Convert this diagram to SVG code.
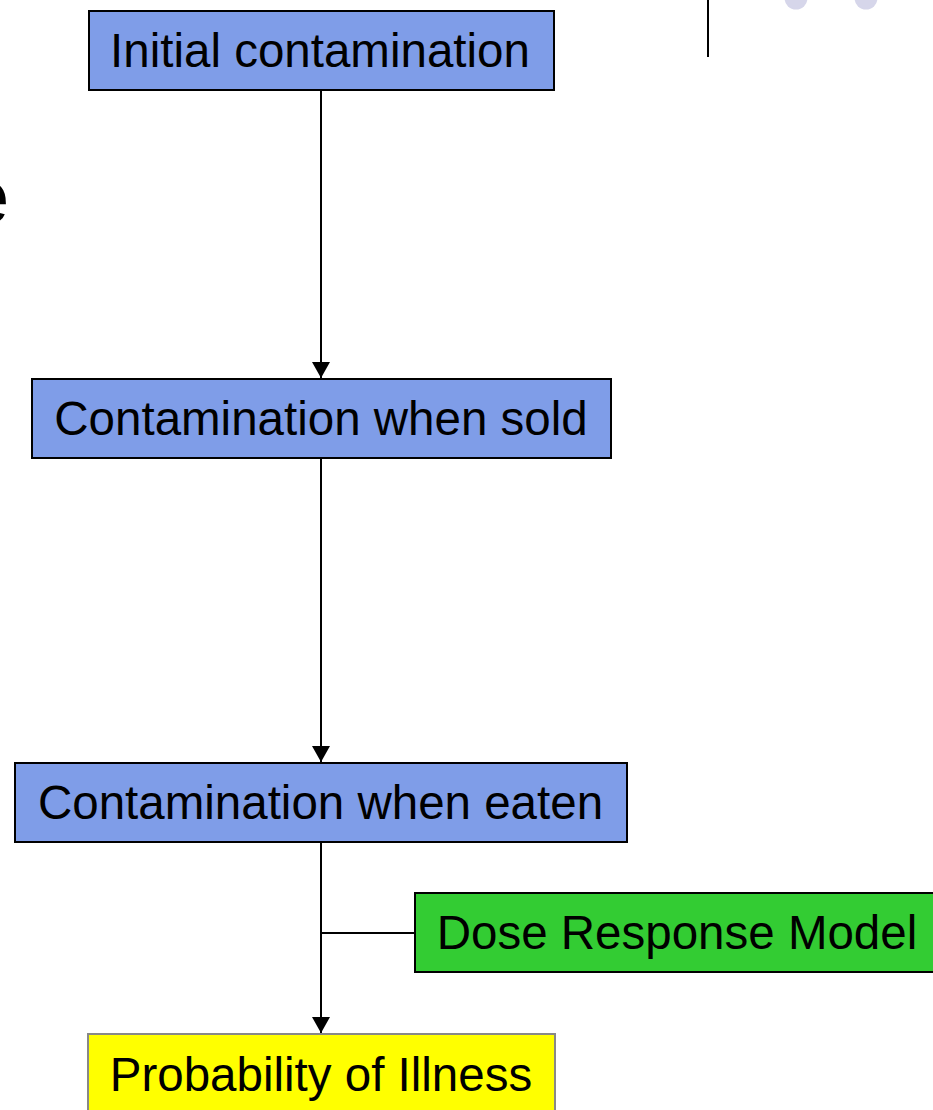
<svg xmlns="http://www.w3.org/2000/svg" width="933" height="1110" viewBox="0 0 933 1110">
<style>
.box{stroke:#000;stroke-width:2}
.blue{fill:#7f9de8}
.lbl{font-family:"Liberation Sans",Arial,sans-serif;font-size:47.5px;fill:#000;text-anchor:middle}
.ln{stroke:#000;stroke-width:2;fill:none}
</style>
<defs>
<marker id="ah" viewBox="0 0 16 18" refX="16" refY="9" markerWidth="16" markerHeight="18" markerUnits="userSpaceOnUse" orient="auto">
<path d="M0,0 L16,9 L0,18 Z" fill="#000"/>
</marker>
</defs>
<rect width="933" height="1110" fill="#fff"/>
<g id="decor">
<text x="-33" y="223" font-family="Liberation Sans,Arial,sans-serif" font-size="76" fill="#000">e</text>
<line x1="708" y1="0" x2="708" y2="57" stroke="#000" stroke-width="2"/>
<circle cx="796" cy="-2" r="11.5" fill="#d6d6ea"/>
<circle cx="866" cy="-2" r="11.5" fill="#d6d6ea"/>
</g>
<g id="connectors">
<line class="ln" x1="321" y1="90" x2="321" y2="378" marker-end="url(#ah)"/>
<line class="ln" x1="321" y1="458" x2="321" y2="762" marker-end="url(#ah)"/>
<line class="ln" x1="321" y1="842" x2="321" y2="1033" marker-end="url(#ah)"/>
<line class="ln" x1="321" y1="933" x2="415" y2="933"/>
</g>
<g id="n1">
<rect class="box blue" x="89" y="11" width="465" height="79"/>
<text class="lbl" x="320" y="67">Initial contamination</text>
</g>
<g id="n2">
<rect class="box blue" x="32" y="379" width="579" height="79"/>
<text class="lbl" x="321" y="435">Contamination when sold</text>
</g>
<g id="n3">
<rect class="box blue" x="15" y="763" width="612" height="79"/>
<text class="lbl" x="320.5" y="819">Contamination when eaten</text>
</g>
<g id="n4">
<rect class="box" x="415" y="893" width="530" height="79" fill="#33cc33"/>
<text class="lbl" x="677" y="949">Dose Response Model</text>
</g>
<g id="n5">
<rect x="88" y="1034" width="467" height="90" fill="#ffff00" stroke="#888" stroke-width="2"/>
<text class="lbl" x="321" y="1091">Probability of Illness</text>
</g>
</svg>
